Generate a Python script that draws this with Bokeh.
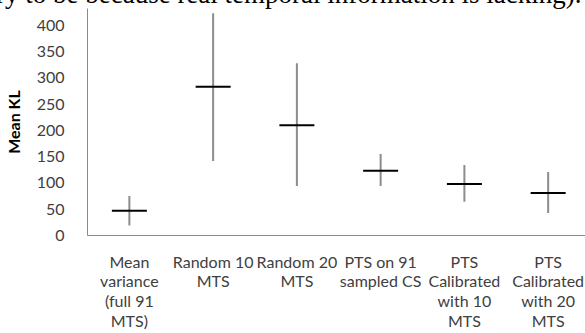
from bokeh.plotting import figure
from bokeh.models import Range1d, FixedTicker, ColumnDataSource, Title
from bokeh.embed import file_html
from bokeh.resources import INLINE

categories = [
    "Mean\nvariance\n(full 91\nMTS)",
    "Random 10\nMTS",
    "Random 20\nMTS",
    "PTS on 91\nsampled CS",
    "PTS\nCalibrated\nwith 10\nMTS",
    "PTS\nCalibrated\nwith 20\nMTS",
]
mean_kl = [47, 283, 210, 123, 98, 81]
upper_kl = [75, 423, 328, 155, 134, 121]
lower_kl = [19, 142, 94, 94, 64, 43]
y_ticks = [0, 50, 100, 150, 200, 250, 300, 350, 400]
page_text = "ry to be because real temporal information is lacking)."

x_pos = [i + 0.5 for i in range(len(categories))]
src = ColumnDataSource(dict(x=x_pos, mean=mean_kl, up=upper_kl, lo=lower_kl))

FONT = "Lato"
FS = "16px"

p = figure(width=585, height=333, output_backend="svg", toolbar_location=None,
           x_range=Range1d(0, 5.946), y_range=Range1d(0, 432),
           min_border_left=82, min_border_right=0, min_border_top=8,
           min_border_bottom=96)
p.outline_line_color = None
p.xgrid.visible = False
p.ygrid.visible = False

p.segment(x0="x", y0="lo", x1="x", y1="up", source=src,
          line_color="#8c8c8c", line_width=2)
p.scatter(x="x", y="mean", source=src, marker="dash", size=35,
          line_color="#000000", line_width=2)

# clipped line of the surrounding paper text at the very top
p.add_layout(Title(text=page_text, align="right", vertical_align="top",
                   standoff=-60, offset=4,
                   text_font="Liberation Serif", text_font_size="27px",
                   text_font_style="normal", text_color="#000000"), "above")

# y axis
ya = p.yaxis[0]
ya.ticker = FixedTicker(ticks=y_ticks)
ya.axis_line_color = "#8a8a8a"
ya.major_tick_line_color = None
ya.minor_tick_line_color = None
ya.major_label_standoff = 17
ya.major_label_text_font = FONT
ya.major_label_text_font_size = FS
ya.major_label_text_color = "#404040"
ya.axis_label = "Mean KL"
ya.axis_label_text_font = FONT
ya.axis_label_text_font_size = FS
ya.axis_label_text_font_style = "bold"
ya.axis_label_text_color = "#000000"
ya.axis_label_standoff = 11

# x axis
xa = p.xaxis[0]
xa.ticker = FixedTicker(ticks=x_pos)
xa.major_label_overrides = {x: c for x, c in zip(x_pos, categories)}
xa.axis_line_color = "#8a8a8a"
xa.major_tick_line_color = None
xa.minor_tick_line_color = None
xa.major_label_standoff = 10
xa.major_label_text_font = FONT
xa.major_label_text_font_size = FS
xa.major_label_text_color = "#404040"
xa.major_label_text_line_height = 1.05

open("out.html", "w").write(file_html(p, INLINE))
